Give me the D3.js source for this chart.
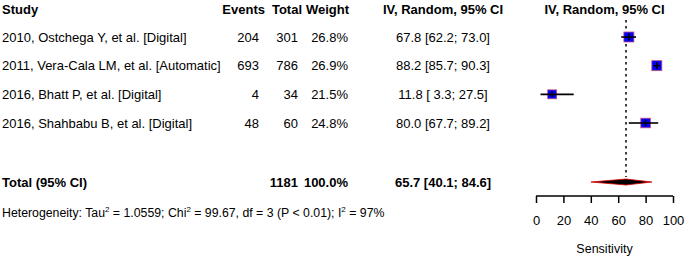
<!DOCTYPE html>
<html><head><meta charset="utf-8">
<script src="https://cdn.jsdelivr.net/npm/d3@7"></script>
<style>
body{margin:0;background:#fff;}
text{font-family:"Liberation Sans",Arial,sans-serif;}
</style></head>
<body>
<svg id="c" width="685" height="258"></svg>
<script>
const studies = ["2010, Ostchega Y, et al. [Digital]","2011, Vera-Cala LM, et al. [Automatic]","2016, Bhatt P, et al. [Digital]","2016, Shahbabu B, et al. [Digital]"];
const events = [204, 693, 4, 48];
const totals = [301, 786, 34, 60];
const weights = [26.8, 26.9, 21.5, 24.8];
const est = [67.8, 88.2, 11.8, 80.0];
const lower = [62.2, 85.7, 3.3, 67.7];
const upper = [73.0, 90.3, 27.5, 89.2];
const pooled = {est:65.7, lower:40.1, upper:84.6, total:1181, weight:"100.0%"};
const ticks = [0,20,40,60,80,100];

const svg = d3.select("#c");
const fs = 13;
const x = d3.scaleLinear().domain([0,100]).range([536,673]);
const rowY = d3.scaleLinear().domain([0,3]).range([37,123]);
const headerY = 9, totalY = 182, hetY = 212, axisY = 196;
const base = 4.6;

function txt(xp, yp, s, anchor, bold){
  return svg.append("text").attr("x",xp).attr("y",yp+base).attr("font-size",fs)
    .attr("text-anchor",anchor||"start").attr("font-weight",bold?"bold":"normal").attr("fill","#000")
    .style("white-space","pre").text(s);
}
// headers
txt(2, headerY, "Study", "start", true);
txt(265, headerY, "Events", "end", true);
txt(302, headerY, "Total", "end", true);
txt(349, headerY, "Weight", "end", true);
txt(443, headerY, "IV, Random, 95% CI", "middle", true);
txt(604.5, headerY, "IV, Random, 95% CI", "middle", true);

const f1 = d3.format(".1f");
function ci(e,l,u){
  const ls = f1(l).padStart(4," ");
  return f1(e)+" ["+ls+"; "+f1(u)+"]";
}
studies.forEach((s,i)=>{
  const y = rowY(i);
  txt(2, y, s);
  txt(259, y, events[i], "end");
  txt(298, y, totals[i], "end");
  txt(348, y, f1(weights[i])+"%", "end");
  txt(443, y, ci(est[i],lower[i],upper[i]), "middle");
});
// total row
txt(2, totalY, "Total (95% CI)", "start", true);
txt(298, totalY, pooled.total, "end", true);
txt(348, totalY, pooled.weight, "end", true);
txt(443, totalY, ci(pooled.est,pooled.lower,pooled.upper), "middle", true);

// heterogeneity
const hf = 12.3;
const het = svg.append("text").attr("x",2).attr("y",hetY+base).attr("font-size",hf).attr("fill","#000");
het.append("tspan").text("Heterogeneity: Tau");
het.append("tspan").attr("dy",-5).attr("font-size",8).text("2");
het.append("tspan").attr("dy",5).text(" = 1.0559; Chi");
het.append("tspan").attr("dy",-5).attr("font-size",8).text("2");
het.append("tspan").attr("dy",5).text(" = 99.67, df = 3 (P < 0.01); I");
het.append("tspan").attr("dy",-5).attr("font-size",8).text("2");
het.append("tspan").attr("dy",5).text(" = 97%");

// dotted pooled line
svg.append("line").attr("x1",x(pooled.est)).attr("x2",x(pooled.est))
  .attr("y1",20).attr("y2",177).attr("stroke","#000").attr("stroke-width",1.5).attr("stroke-dasharray","2.5,3.5");

// study marks
const maxW = d3.max(weights);
studies.forEach((s,i)=>{
  const y = rowY(i);
  const sz = 10*Math.sqrt(weights[i]/maxW);
  svg.append("rect").attr("x",x(est[i])-sz/2).attr("y",y-sz/2).attr("width",sz).attr("height",sz)
    .attr("fill","#0000ff").attr("stroke","#c8507a").attr("stroke-width",0.8);
  svg.append("line").attr("x1",x(lower[i])).attr("x2",x(upper[i])).attr("y1",y).attr("y2",y)
    .attr("stroke","#000").attr("stroke-width",1.6);
  svg.append("line").attr("x1",x(est[i])).attr("x2",x(est[i])).attr("y1",y-sz/2+1.5).attr("y2",y+sz/2-1.5)
    .attr("stroke","#000").attr("stroke-width",1.6);
});
// diamond
const dh = 3;
svg.append("path").attr("d",`M${x(pooled.lower)},${totalY} L${x(pooled.est)},${totalY-dh} L${x(pooled.upper)},${totalY} L${x(pooled.est)},${totalY+dh} Z`)
  .attr("fill","#000").attr("stroke","#e00000").attr("stroke-width",0.8);

// axis
const ax = svg.append("g").attr("transform",`translate(0,${axisY})`)
  .call(d3.axisBottom(x).tickValues(ticks).tickSize(7).tickPadding(13));
ax.select(".domain").attr("stroke-width",1.5).attr("d",`M${x(0)},0H${x(100)}`);
ax.selectAll(".tick line").attr("stroke-width",1.5);
ax.selectAll(".tick text").attr("font-size",13).attr("fill","#000");
svg.append("text").attr("x",604.5).attr("y",253).attr("font-size",12.5).attr("text-anchor","middle").text("Sensitivity");
</script>
</body></html>
